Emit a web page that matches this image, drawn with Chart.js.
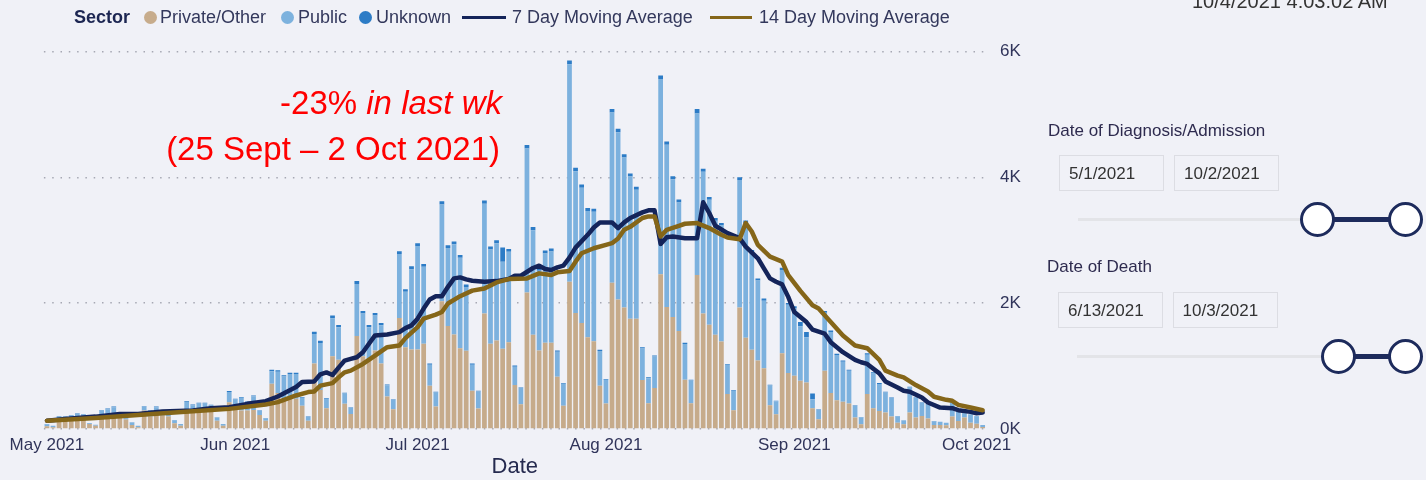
<!DOCTYPE html>
<html><head><meta charset="utf-8">
<script src="https://cdn.jsdelivr.net/npm/chart.js@4.4.1/dist/chart.umd.min.js"></script>
<style>
html,body{margin:0;padding:0;background:#F0F1F7;width:1426px;height:480px;overflow:hidden;font-family:'Liberation Sans',Arial,sans-serif;}
#wrap{position:relative;width:1426px;height:480px;}
canvas{position:absolute;left:0;top:0;}
.t{position:absolute;white-space:nowrap;line-height:1;}
.dot{position:absolute;width:13px;height:13px;border-radius:50%;}
.ln{position:absolute;height:3px;}
.box{position:absolute;width:105px;height:36px;border:1px solid #dcdde3;box-sizing:border-box;}
.track{position:absolute;height:3px;background:#e3e4e8;}
.bar{position:absolute;height:5px;background:#1d2b5c;}
.hdl{position:absolute;width:35px;height:35px;border:3px solid #1d2b5c;border-radius:50%;background:#fff;box-sizing:border-box;}
</style></head><body>
<div id="wrap">
<canvas id="c" width="1426" height="480"></canvas>

<!-- legend -->
<div class="t" style="left:74px;top:8px;font-size:18px;font-weight:bold;color:#1c2652">Sector</div>
<div class="dot" style="left:143.5px;top:10.5px;background:#C7AC8C"></div>
<div class="t" style="left:160px;top:8px;font-size:18px;color:#33385c">Private/Other</div>
<div class="dot" style="left:280.5px;top:10.5px;background:#7DB2DE"></div>
<div class="t" style="left:298px;top:8px;font-size:18px;color:#33385c">Public</div>
<div class="dot" style="left:359px;top:10.5px;background:#2D7CC6"></div>
<div class="t" style="left:376px;top:8px;font-size:18px;color:#33385c">Unknown</div>
<div class="ln" style="left:462px;top:15.5px;width:44px;background:#14245A"></div>
<div class="t" style="left:512px;top:8px;font-size:18px;color:#33385c">7 Day Moving Average</div>
<div class="ln" style="left:710px;top:15.5px;width:42px;background:#856619"></div>
<div class="t" style="left:759px;top:8px;font-size:18px;color:#33385c">14 Day Moving Average</div>

<!-- annotation -->
<div class="t" style="right:924px;top:86px;font-size:33px;color:#ff0000">-23% <i>in last wk</i></div>
<div class="t" style="right:926px;top:132px;font-size:33px;color:#ff0000">(25 Sept – 2 Oct 2021)</div>

<!-- right panel -->
<div class="t" style="left:1192px;top:-9px;font-size:20px;color:#333">10/4/2021 4:03:02 AM</div>
<div class="t" style="left:1048px;top:122.4px;font-size:17px;color:#2e2b4f">Date of Diagnosis/Admission</div>
<div class="box" style="left:1059px;top:155px;"></div>
<div class="box" style="left:1174px;top:155px;"></div>
<div class="t" style="left:1069px;top:165px;font-size:17px;color:#333">5/1/2021</div>
<div class="t" style="left:1184px;top:165px;font-size:17px;color:#333">10/2/2021</div>
<div class="track" style="left:1078px;top:218px;width:240px;"></div>
<div class="bar" style="left:1317px;top:217px;width:88px;"></div>
<div class="hdl" style="left:1300px;top:202px;"></div>
<div class="hdl" style="left:1387.5px;top:202px;"></div>

<div class="t" style="left:1047px;top:258.4px;font-size:17px;color:#2e2b4f">Date of Death</div>
<div class="box" style="left:1058px;top:291.5px;"></div>
<div class="box" style="left:1172.5px;top:291.5px;"></div>
<div class="t" style="left:1068px;top:301.7px;font-size:17px;color:#333">6/13/2021</div>
<div class="t" style="left:1182.5px;top:301.7px;font-size:17px;color:#333">10/3/2021</div>
<div class="track" style="left:1077px;top:355px;width:262px;"></div>
<div class="bar" style="left:1338px;top:354px;width:67px;"></div>
<div class="hdl" style="left:1321px;top:339px;"></div>
<div class="hdl" style="left:1387.5px;top:339px;"></div>
</div>

<script>
// ---- categories: one per day, 1 May 2021 .. 2 Oct 2021 ----
const firstDay = [2021, 4, 1];
const dayCount = 155;
const monthNames = ['Jan','Feb','Mar','Apr','May','Jun','Jul','Aug','Sep','Oct','Nov','Dec'];
const dates = [];
for (let i = 0; i < dayCount; i++) {
  const d = new Date(firstDay[0], firstDay[1], firstDay[2] + i);
  dates.push(d.getFullYear() + '-' + String(d.getMonth() + 1).padStart(2, '0') + '-' + String(d.getDate()).padStart(2, '0'));
}

// ---- stacked bar series ----
const privateOther = [
  43,27,160,160,176,165,176,80,53,213,
  240,240,176,150,64,27,293,197,240,213,
  197,91,53,293,293,267,277,320,133,53,
  427,320,293,293,304,224,133,720,571,453,
  480,480,368,133,1040,620,331,1157,1100,400,
  240,1477,1157,1120,1250,1040,517,315,1765,1301,
  1264,1264,1355,688,357,2032,1637,1504,1285,1243,
  608,325,1835,1355,1408,1275,1381,699,395,2171,
  1499,1248,1371,1371,832,368,2341,1845,1685,1461,
  1397,688,405,2325,2059,1931,1755,1755,779,411,
  651,2459,1941,1781,1557,784,411,2448,1835,1659,
  1499,1392,555,299,1931,1451,1259,1088,965,379,
  235,1205,891,848,768,741,331,155,928,571,
  459,432,405,181,75,555,331,288,261,197,
  101,75,261,181,208,165,64,64,59,197,
  128,181,101,85,32
];
const publicSector = [
  32,26,40,42,40,79,58,13,14,83,
  75,107,16,22,40,24,60,99,107,48,
  99,49,25,138,86,139,129,54,49,25,
  161,150,202,140,217,63,39,199,340,380,
  394,394,129,59,472,748,150,606,518,164,
  93,830,680,498,555,610,180,152,1017,883,
  1278,1646,1224,332,225,1539,1241,1432,1438,1016,
  412,273,1747,1501,1545,1386,1438,289,256,2291,
  1662,1267,1421,1453,396,351,3460,2255,2153,2004,
  2057,551,378,2708,2659,2387,2259,2051,502,398,
  502,3107,2580,2190,2046,567,361,2570,2254,1987,
  1811,1843,465,310,2029,1826,1549,1272,1075,313,
  205,1325,1084,1074,864,720,144,152,919,972,
  716,636,521,190,113,625,552,428,319,294,
  102,60,399,310,205,222,61,50,39,216,
  143,70,129,119,30
];
const unknownSector = [
  5,0,8,6,8,6,6,3,2,8,
  10,10,5,4,3,2,10,8,10,6,
  8,4,2,12,10,10,10,10,5,2,
  15,10,12,10,12,6,4,25,22,20,
  22,22,10,5,35,35,10,40,35,12,
  8,45,40,35,40,35,12,8,45,40,
  45,45,45,20,10,50,45,45,45,40,
  20,10,50,45,50,224,45,20,10,55,
  50,40,45,45,20,12,60,55,50,50,
  50,20,12,55,55,50,50,45,20,12,
  15,55,50,50,45,20,12,70,50,45,
  45,40,15,10,45,40,40,35,35,12,
  8,35,30,30,69,80,90,8,30,25,
  20,20,18,8,4,25,18,15,12,10,
  5,4,12,10,8,8,3,3,3,8,
  6,5,5,4,2
];

// ---- moving-average lines: vertices (day index, value) ----
const ma7Day = [0,3,8,12,15,19,24,27,30,33,36,38,41,42,44,45,46,47,48,49,50,51,52,53,54,56,58,59,60,61,62,63,64,65,66,67,68,69,70,72,74,76,77,78,80,81,82,83,84,85,86,87,89,90,91,93,94,95,96,98,99,100,101,102,103,105,107,108,109,110,112,114,115,117,118,119,120,121,122,123,125,126,128,129,131,133,134,135,137,138,140,141,142,144,145,147,149,150,152,153,154];
const ma7Val = [133,160,197,240,240,277,293,331,347,400,443,517,667,747,757,870,900,858,976,1088,1115,1141,1221,1355,1488,1504,1541,1605,1648,1755,1915,2059,2112,2112,2261,2395,2411,2379,2357,2341,2352,2384,2437,2437,2560,2597,2544,2528,2571,2597,2725,2885,3088,3205,3285,3285,3195,3285,3355,3445,3477,3477,2944,3051,3061,3035,3035,3605,3435,3232,3115,3035,2901,2715,2555,2395,2341,2299,2101,1861,1701,1579,1515,1381,1221,1099,1061,1035,885,757,661,608,592,501,421,341,331,299,272,251,261];
const ma14Day = [0,8,15,24,30,36,38,41,43,44,45,47,48,49,50,52,54,56,58,59,61,62,64,65,66,68,70,72,74,76,79,81,83,84,86,87,88,90,92,93,94,95,96,98,99,100,101,102,104,105,107,109,111,112,114,115,116,117,119,121,122,124,126,127,129,131,133,135,137,138,140,141,143,145,146,148,149,150,152,154];
const ma14Val = [133,176,224,283,320,389,427,533,587,597,690,730,821,901,928,1035,1168,1301,1328,1445,1621,1755,1819,1861,1995,2112,2200,2235,2331,2384,2395,2475,2448,2491,2512,2661,2795,2875,2928,2955,3030,3168,3215,3355,3381,3381,3061,3168,3232,3264,3275,3195,3088,3045,3019,3275,3141,2928,2741,2661,2448,2197,1968,1915,1701,1488,1328,1285,1099,928,848,821,699,597,512,464,448,384,341,299];

const yTicks = [0, 2000, 4000, 6000];
const yMax = 6000;

const navy = '#14245A', olive = '#856619';
const textCol = '#30345a';
Chart.defaults.font.family = "'Liberation Sans', Arial, sans-serif";

new Chart(document.getElementById('c'), {
  data: {
    labels: dates,
    datasets: [
      { type: 'bar', label: 'Private/Other', data: privateOther, backgroundColor: '#C6AB8B', stack: 'sector', order: 2, barPercentage: 0.78, categoryPercentage: 1 },
      { type: 'bar', label: 'Public', data: publicSector, backgroundColor: '#7CB1DE', stack: 'sector', order: 2, barPercentage: 0.78, categoryPercentage: 1 },
      { type: 'bar', label: 'Unknown', data: unknownSector, backgroundColor: '#2D7CC6', stack: 'sector', order: 2, barPercentage: 0.78, categoryPercentage: 1 },
      { type: 'line', label: '7 Day Moving Average', data: ma7Day.map((d, k) => ({ x: dates[d], y: ma7Val[k] })), borderColor: navy, borderWidth: 4.5, pointRadius: 0, tension: 0, fill: false, stack: 'ma7', order: 1, borderJoinStyle: 'round', borderCapStyle: 'round' },
      { type: 'line', label: '14 Day Moving Average', data: ma14Day.map((d, k) => ({ x: dates[d], y: ma14Val[k] })), borderColor: olive, borderWidth: 4.5, pointRadius: 0, tension: 0, fill: false, stack: 'ma14', order: 0, borderJoinStyle: 'round', borderCapStyle: 'round' }
    ]
  },
  options: {
    responsive: false,
    animation: false,
    devicePixelRatio: 1,
    events: [],
    layout: { padding: { left: 43.9, top: 51.7, right: 0, bottom: 0 } },
    plugins: { legend: { display: false }, tooltip: { enabled: false } },
    scales: {
      x: {
        stacked: true, offset: true,
        grid: { display: false, drawTicks: false },
        border: { display: false },
        ticks: {
          autoSkip: false, maxRotation: 0, minRotation: 0, color: textCol, font: { size: 17 }, padding: 6,
          callback: function (v, i) {
            const s = dates[i];
            if (s.slice(8) === '01') return monthNames[parseInt(s.slice(5, 7), 10) - 1] + ' ' + s.slice(0, 4);
            return '';
          }
        },
        title: { display: true, text: 'Date', color: '#252a4f', font: { size: 22 }, padding: { top: 0, bottom: 0 } },
        afterFit: function (s) { s.height = 51; }
      },
      y: {
        stacked: true, position: 'right', min: 0, max: yMax,
        afterBuildTicks: function (s) { s.ticks = yTicks.map(v => ({ value: v })); },
        ticks: { color: textCol, font: { size: 17 }, padding: 14.3, crossAlign: 'near', callback: v => (v / 1000) + 'K' },
        grid: { color: '#a6a8b3', lineWidth: 1.5, drawTicks: false },
        border: { display: false, dash: [1.5, 6.8] },
        afterFit: function (s) { s.width = 440.3; }
      }
    }
  }
});
</script>
</body></html>
